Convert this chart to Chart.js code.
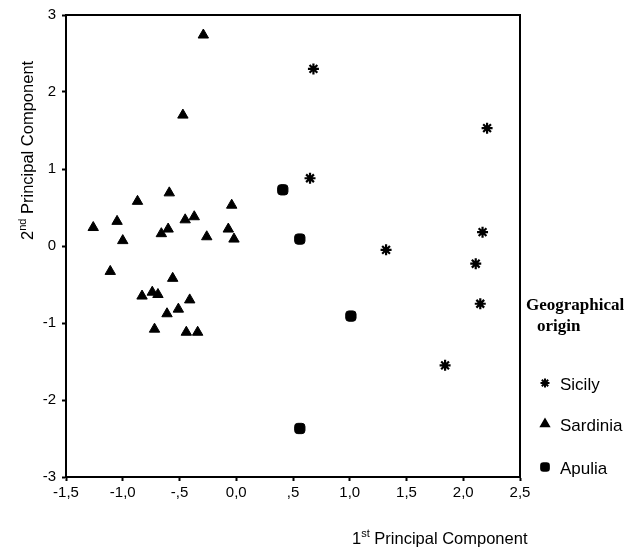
<!DOCTYPE html>
<html>
<head>
<meta charset="utf-8">
<script src="https://cdn.jsdelivr.net/npm/chart.js"></script>
<style>
  body { margin: 0; background: #fff; }
  #wrap { width: 628px; height: 555px; }
</style>
</head>
<body>
<div id="wrap"><canvas id="pcaChart" width="628" height="555"></canvas></div>
<script>
// PCA scores (1st and 2nd principal component)
let sicilyX = [0.68, 2.21, 0.65, 2.17, 1.32, 2.11, 2.15, 1.84];
let sicilyY = [2.30, 1.53, 0.88, 0.18, -0.05, -0.23, -0.75, -1.55];

let sardiniaX = [-0.29, -0.47, -1.26, -1.05, -1.00, -0.87, -0.59, -0.66, -0.60, -0.45, -0.37, -0.26, -0.07, -0.04, -0.02,
                 -1.11, -0.56, -0.83, -0.74, -0.69, -0.41, -0.61, -0.51, -0.72, -0.44, -0.34];
let sardiniaY = [2.74, 1.70, 0.24, 0.32, 0.07, 0.58, 0.69, 0.16, 0.22, 0.34, 0.38, 0.12, 0.22, 0.53, 0.09,
                 -0.33, -0.42, -0.65, -0.60, -0.63, -0.70, -0.88, -0.82, -1.08, -1.12, -1.12];

let apuliaX = [0.41, 0.56, 1.01, 0.56];
let apuliaY = [0.73, 0.09, -0.91, -2.37];

let xTickLabels = ['-1,5', '-1,0', '-,5', '0,0', ',5', '1,0', '1,5', '2,0', '2,5'];
let yTickLabels = ['-3', '-2', '-1', '0', '1', '2', '3'];
let groupNames = ['Sicily', 'Sardinia', 'Apulia'];
let groupStyles = ['star', 'triangle', 'rectRounded'];

function toPoints(xs, ys) {
  return xs.map((x, i) => ({ x: x, y: ys[i] }));
}

// draws "1" + superscript "st" + rest, starting at (0,0) of current transform
function drawSupText(ctx, base, sup, rest) {
  ctx.font = '16.5px "Liberation Sans", Arial, sans-serif';
  ctx.fillText(base, 0, 0);
  let w = ctx.measureText(base).width;
  ctx.font = '11px "Liberation Sans", Arial, sans-serif';
  ctx.fillText(sup, w, -7);
  w += ctx.measureText(sup).width;
  ctx.font = '16.5px "Liberation Sans", Arial, sans-serif';
  ctx.fillText(rest, w, 0);
}

function legendMarker(ctx, style, x, y) {
  let opts = { pointStyle: style, radius: 4.5, rotation: 0, borderWidth: 2 };
  ctx.fillStyle = '#000';
  ctx.strokeStyle = '#000';
  ctx.lineWidth = 2;
  if (Chart.helpers && Chart.helpers.drawPoint) {
    Chart.helpers.drawPoint(ctx, opts, x, y);
  } else {
    ctx.beginPath();
    ctx.arc(x, y, 4.5, 0, Math.PI * 2);
    ctx.fill();
  }
}

const extras = {
  id: 'extras',
  afterDraw(chart) {
    const ctx = chart.ctx;
    const a = chart.chartArea;
    ctx.save();
    // box round the plot
    ctx.strokeStyle = '#000';
    ctx.lineWidth = 2;
    ctx.beginPath();
    ctx.moveTo(a.left, a.top);
    ctx.lineTo(a.right, a.top);
    ctx.lineTo(a.right, a.bottom);
    ctx.stroke();

    ctx.fillStyle = '#000';
    ctx.textBaseline = 'alphabetic';
    ctx.textAlign = 'left';

    // x axis title
    ctx.save();
    ctx.translate(352, 544);
    drawSupText(ctx, '1', 'st', ' Principal Component');
    ctx.restore();

    // y axis title
    ctx.save();
    ctx.translate(33, 240);
    ctx.rotate(-Math.PI / 2);
    drawSupText(ctx, '2', 'nd', ' Principal Component');
    ctx.restore();

    // legend
    ctx.font = 'bold 17px "Liberation Serif", "Times New Roman", serif';
    ctx.fillText('Geographical', 526, 310);
    ctx.fillText('origin', 537, 331);
    let rows = [383, 424, 467];
    ctx.font = '17px "Liberation Sans", Arial, sans-serif';
    groupNames.forEach((name, i) => {
      legendMarker(ctx, groupStyles[i], 545, rows[i]);
      ctx.fillStyle = '#000';
      ctx.fillText(name, 560, rows[i] + 7);
    });
    ctx.restore();
  }
};

const ctx = document.getElementById('pcaChart').getContext('2d');
const chart = new Chart(ctx, {
  type: 'scatter',
  data: {
    datasets: [
      {
        label: groupNames[0],
        data: toPoints(sicilyX, sicilyY),
        pointStyle: 'star',
        radius: 5.5,
        borderWidth: 2.2,
        borderColor: '#000',
        backgroundColor: '#000'
      },
      {
        label: groupNames[1],
        data: toPoints(sardiniaX, sardiniaY),
        pointStyle: 'triangle',
        radius: 6,
        borderWidth: 1,
        borderColor: '#000',
        backgroundColor: '#000'
      },
      {
        label: groupNames[2],
        data: toPoints(apuliaX, apuliaY),
        pointStyle: 'rectRounded',
        radius: 6,
        borderWidth: 1,
        borderColor: '#000',
        backgroundColor: '#000'
      }
    ]
  },
  options: {
    responsive: false,
    animation: false,
    layout: { padding: { top: 15, right: 108, left: 0, bottom: 0 } },
    plugins: {
      legend: { display: false },
      tooltip: { enabled: false }
    },
    scales: {
      x: {
        type: 'linear',
        min: -1.5,
        max: 2.5,
        afterFit(scale) { scale.height = 78; },
        afterBuildTicks(scale) {
          scale.ticks = xTickLabels.map((t, i) => ({ value: -1.5 + i * 0.5 }));
        },
        ticks: {
          color: '#000',
          padding: 3,
          maxRotation: 0,
          font: { family: '"Liberation Sans", Arial, sans-serif', size: 15 },
          callback: (v, i) => xTickLabels[i]
        },
        grid: { drawOnChartArea: false, color: '#000', tickLength: 4, tickWidth: 2 },
        border: { color: '#000', width: 2 }
      },
      y: {
        type: 'linear',
        min: -3,
        max: 3,
        afterFit(scale) { scale.width = 66; },
        afterBuildTicks(scale) {
          scale.ticks = yTickLabels.map((t, i) => ({ value: -3 + i }));
        },
        ticks: {
          color: '#000',
          padding: 6,
          font: { family: '"Liberation Sans", Arial, sans-serif', size: 15 },
          callback: (v, i) => yTickLabels[i]
        },
        grid: { drawOnChartArea: false, color: '#000', tickLength: 4, tickWidth: 2 },
        border: { color: '#000', width: 2 }
      }
    }
  },
  plugins: [extras]
});
</script>
</body>
</html>
